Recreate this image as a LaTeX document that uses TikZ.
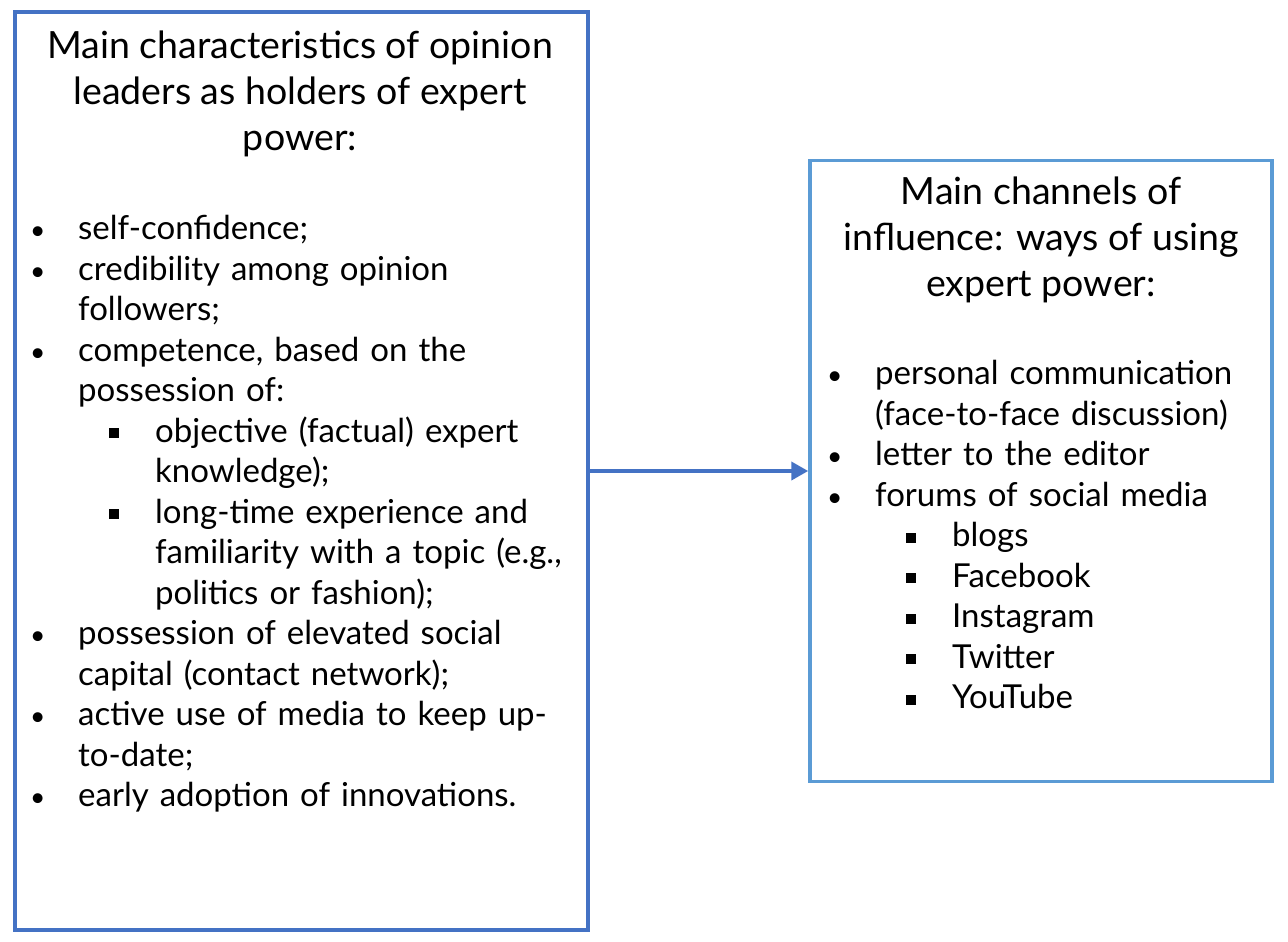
\documentclass[tikz,border=0pt]{standalone}
\usepackage{fontspec}
\setmainfont{Lato}
\usepackage{enumitem}
\usepackage{xcolor}
\definecolor{frameDark}{RGB}{68, 114, 196}
\definecolor{frameLight}{RGB}{91, 155, 213}
\usetikzlibrary{
    arrows.meta,
    positioning
}

\newcommand{\sqbullet}{\rule[4pt]{10pt}{10pt}}
\newcommand{\dotbullet}{\scalebox{0.8}{\textbullet}}
\setlist[itemize,1]{nosep, leftmargin=48pt, labelwidth=48pt, labelsep=0pt, align=left, label=\dotbullet}
\setlist[itemize,2]{nosep, leftmargin=77pt, labelwidth=46pt, labelsep=0pt, align=left, label=\sqbullet}

\begin{document}
\begin{tikzpicture}[
    x=1pt, y=-1pt,
    panelBox/.style={
        rectangle, draw=frameDark, line width=3.5pt,
        fill=white, inner sep=0pt
    },
    titleText/.style={
        font=\fontsize{37.5}{46}\selectfont, align=center,
        inner sep=0pt, anchor=north
    },
    listText/.style={
        font=\fontsize{33}{40.5}\selectfont, text width=#1,
        align=left, inner sep=0pt, anchor=north west
    },
    flowArrow/.style={
        -{Triangle[length=17pt, width=18pt]}, line width=4pt, draw=frameDark
    }
]
    \useasboundingbox (0,0) rectangle (1288,942);

    % Frames
    \node[panelBox, minimum width=573pt, minimum height=918pt] (leftPanel) at (301.5, 471) {};
    \node[panelBox, draw=frameLight, minimum width=462pt, minimum height=621pt] (rightPanel) at (1041, 471) {};

    % Titles
    \node[titleText] (leftTitle) at (300, 31) {Main characteristics of opinion\\leaders as holders of expert\\power:};
    \node[titleText] (rightTitle) at (1041, 177) {Main channels of\\influence: ways of using\\expert power:};

    % Lists
    \node[listText=620pt] (leftList) at (30, 199) {%
        \begin{itemize}
            \item self-confidence;
            \item credibility among opinion\\followers;
            \item competence, based on the\\possession of:
            \begin{itemize}
                \item objective (factual) expert\\knowledge);
                \item long-time experience and\\familiarity with a topic (e.g.,\\politics or fashion);
            \end{itemize}
            \item possession of elevated social\\capital (contact network);
            \item active use of media to keep up-\\to-date;
            \item early adoption of innovations.
        \end{itemize}};
    \node[listText=480pt] (rightList) at (827, 344) {%
        \begin{itemize}
            \item personal communication\\(face-to-face discussion)
            \item letter to the editor
            \item forums of social media
            \begin{itemize}
                \item blogs
                \item Facebook
                \item Instagram
                \item Twitter
                \item YouTube
            \end{itemize}
        \end{itemize}};

    % Connector
    \draw[flowArrow] (leftPanel.east) -- (rightPanel.west);

\end{tikzpicture}
\end{document}
